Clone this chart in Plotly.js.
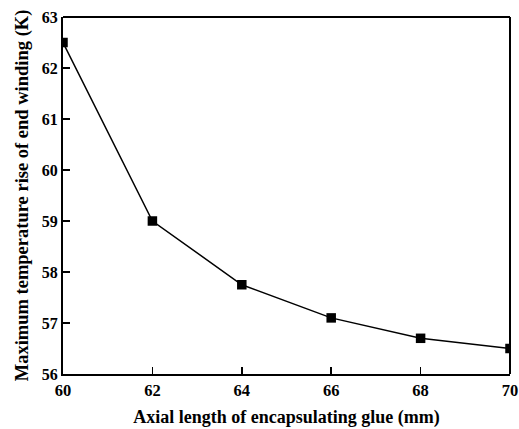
<!DOCTYPE html>
<html><head><meta charset="utf-8">
<script src="https://cdn.plot.ly/plotly-3.0.1.min.js"></script>
<style>html,body{margin:0;padding:0;background:#fff;}</style>
</head><body>
<div id="chart" style="width:519px;height:429px;"></div>
<script>
var xLength = [60, 62, 64, 66, 68, 70];
var tempRise = [62.5, 59.0, 57.75, 57.1, 56.7, 56.5];
var xTicks = [60, 62, 64, 66, 68, 70];
var yTicks = [56, 57, 58, 59, 60, 61, 62, 63];

var font = {family: '"Liberation Serif", "Times New Roman", serif', color: '#000'};
Plotly.newPlot('chart', [{
  x: xLength, y: tempRise, type: 'scatter', mode: 'lines+markers',
  line: {color: '#000', width: 1.5},
  marker: {symbol: 'square', size: 9.5, color: '#000'}
}], {
  width: 519, height: 429,
  margin: {l: 63, r: 9, t: 17, b: 55},
  paper_bgcolor: '#fff', plot_bgcolor: '#fff',
  showlegend: false,
  font: font,
  xaxis: {
    range: [60, 70], tickvals: xTicks, ticktext: xTicks.map(function (v) { return '<b>' + v + '</b>'; }),
    ticks: 'inside', ticklen: 7, tickwidth: 1.5, tickcolor: '#000',
    showline: true, linecolor: '#000', linewidth: 2, mirror: false,
    showgrid: false, zeroline: false,
    tickfont: {family: font.family, size: 16.5, color: '#000'},
    title: {text: '<b>Axial length of encapsulating glue (mm)</b>', font: {family: font.family, size: 18, color: '#000'}, standoff: 12}
  },
  yaxis: {
    range: [56, 63], tickvals: yTicks, ticktext: yTicks.map(function (v) { return '<b>' + v + '</b>'; }),
    ticks: 'inside', ticklen: 7, tickwidth: 1.5, tickcolor: '#000',
    showline: true, linecolor: '#000', linewidth: 2, mirror: false,
    showgrid: false, zeroline: false,
    tickfont: {family: font.family, size: 16, color: '#000'},
    title: {text: '<b>Maximum temperature rise of end winding (K)</b>', font: {family: font.family, size: 18.5, color: '#000'}, standoff: 8}
  },
  shapes: [
    {type: 'line', xref: 'paper', yref: 'paper', x0: 0, x1: 1, y0: 1, y1: 1, line: {color: '#000', width: 2}},
    {type: 'line', xref: 'paper', yref: 'paper', x0: 1, x1: 1, y0: 0, y1: 1, line: {color: '#000', width: 2}}
  ]
}, {displayModeBar: false, staticPlot: true});
</script>
</body></html>
